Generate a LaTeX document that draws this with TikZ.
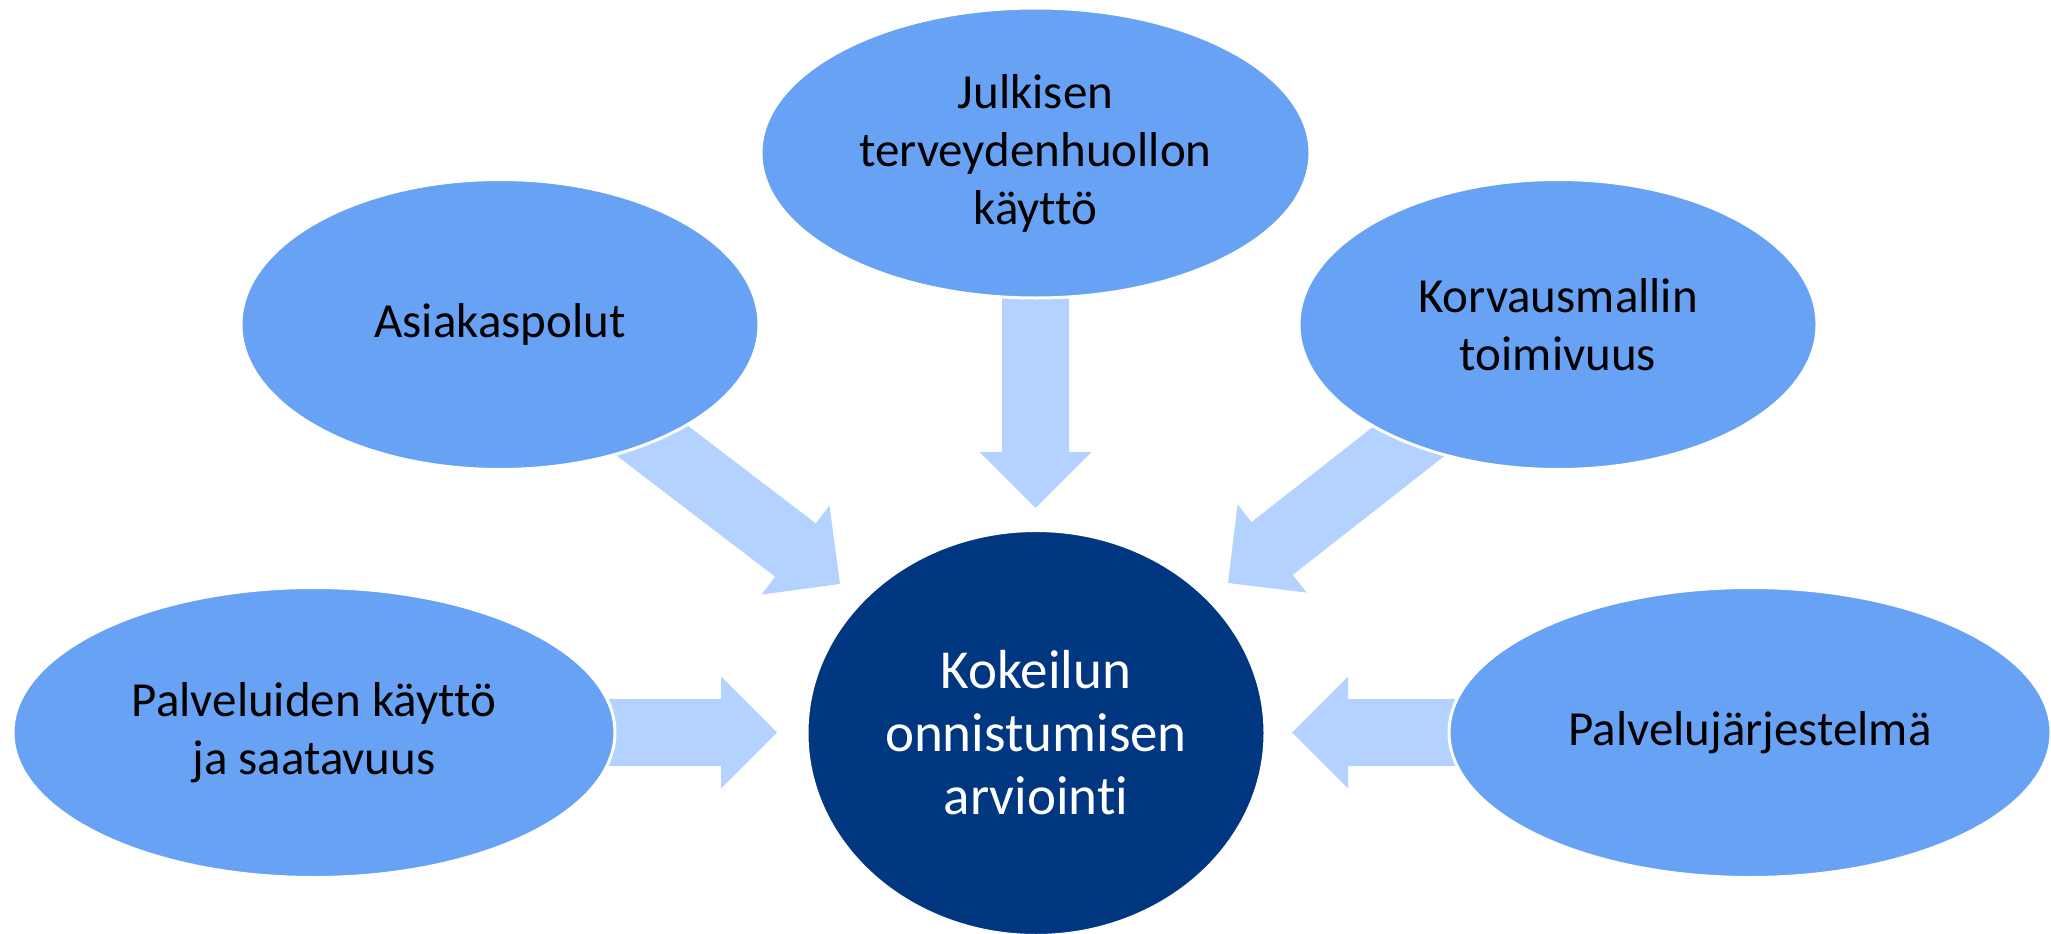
\documentclass[tikz,border=0pt]{standalone}
\usepackage{fontspec}
\setmainfont{Carlito}[Ligatures={NoCommon,NoContextual}]
\usetikzlibrary{shapes.geometric,calc,backgrounds}
\definecolor{outerfill}{RGB}{104,162,245}
\definecolor{centerfill}{RGB}{0,55,128}
\definecolor{arrowfill}{RGB}{180,210,255}
\tikzset{
  outer/.style={ellipse, fill=outerfill, draw=white, line width=3pt, inner sep=0pt,
    align=center, text=black, font=\fontsize{49pt}{58pt}\selectfont},
  hub/.style={ellipse, fill=centerfill, draw=white, line width=3pt, inner sep=0pt,
    align=center, text=white, font=\fontsize{55pt}{63pt}\selectfont},
  fatarrow/.style={fill=arrowfill}
}
\newcommand{\blockarrow}[2]{%
  \coordinate (ba) at ($(#2)!56pt!(#1)$);
  \fill[fatarrow] ($(#1)!33.5pt!90:(#2)$) -- ($(ba)!33.5pt!90:(#2)$) -- ($(ba)!56pt!90:(#2)$)
    -- (#2) -- ($(ba)!56pt!-90:(#2)$) -- ($(ba)!33.5pt!-90:(#2)$) -- ($(#1)!33.5pt!-90:(#2)$) -- cycle;}
\begin{document}
\begin{tikzpicture}[x=1pt,y=-1pt]
\useasboundingbox (0,0) rectangle (2051,934);
\node[outer, minimum width=518pt, minimum height=290pt] (asia) at (500,324.5) {Asiakaspolut};
\node[outer, minimum width=549pt, minimum height=290pt] (julk) at (1035.5,153) {Julkisen\\terveydenhuollon\\käyttö};
\node[outer, minimum width=518pt, minimum height=290pt] (korv) at (1558,324.5) {Korvausmallin\\toimivuus};
\node[outer, minimum width=602pt, minimum height=290pt] (palv) at (314,732.5) {Palveluiden käyttö\\ja saatavuus};
\node[outer, minimum width=602pt, minimum height=290pt] (jarj) at (1750,732.5) {Palvelujärjestelmä};
\node[hub, minimum width=458pt, minimum height=405pt] (hub) at (1036,733) {Kokeilun\\onnistumisen\\arviointi};
\coordinate (t1) at (840,584);
\coordinate (t2) at (1035.5,508);
\coordinate (t3) at (1228,583);
\coordinate (t4) at (777,732.5);
\coordinate (t5) at (1292,732.5);
\begin{pgfonlayer}{background}
\blockarrow{asia.center}{t1}
\blockarrow{julk.center}{t2}
\blockarrow{korv.center}{t3}
\blockarrow{palv.center}{t4}
\blockarrow{jarj.center}{t5}
\end{pgfonlayer}
\end{tikzpicture}
\end{document}
